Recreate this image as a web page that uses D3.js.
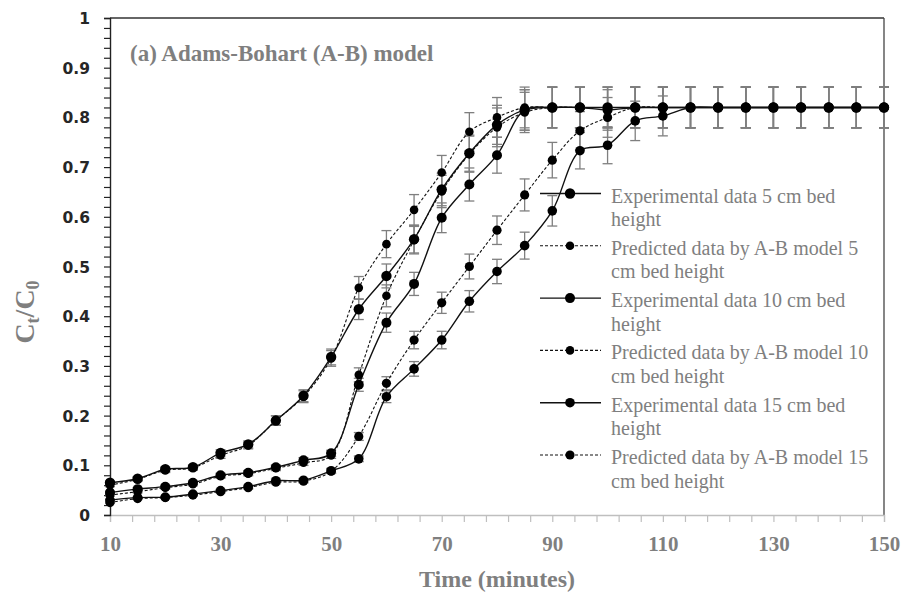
<!DOCTYPE html>
<html>
<head>
<meta charset="utf-8">
<script src="https://cdn.jsdelivr.net/npm/d3@7"></script>
<style>
  html, body { margin: 0; padding: 0; background: #fff; }
  svg { display: block; }
</style>
</head>
<body>
<svg id="chart" width="902" height="594"></svg>
<script>
// ---------- data ----------
const times = [10,15,20,25,30,35,40,45,50,55,60,65,70,75,80,85,90,95,100,105,110,115,120,125,130,135,140,145,150];

const exp5  = [0.065,0.073,0.092,0.096,0.125,0.142,0.190,0.240,0.318,0.414,0.481,0.555,0.655,0.728,0.785,0.815,0.820,0.820,0.820,0.820,0.820,0.820,0.820,0.820,0.820,0.820,0.820,0.820,0.820];
const pred5 = [0.060,0.072,0.090,0.095,0.120,0.140,0.190,0.238,0.315,0.457,0.545,0.614,0.689,0.771,0.800,0.820,0.820,0.820,0.820,0.820,0.820,0.820,0.820,0.820,0.820,0.820,0.820,0.820,0.820];
const exp10 = [0.045,0.052,0.057,0.065,0.080,0.085,0.096,0.110,0.124,0.262,0.387,0.465,0.598,0.665,0.724,0.815,0.820,0.820,0.815,0.820,0.820,0.820,0.820,0.820,0.820,0.820,0.820,0.820,0.820];
const pred10= [0.040,0.047,0.055,0.062,0.078,0.083,0.094,0.105,0.120,0.282,0.441,0.553,0.651,0.726,0.780,0.810,0.820,0.820,0.820,0.820,0.820,0.820,0.820,0.820,0.820,0.820,0.820,0.820,0.820];
const exp15 = [0.030,0.035,0.036,0.042,0.049,0.057,0.069,0.070,0.089,0.113,0.238,0.294,0.352,0.430,0.490,0.542,0.612,0.733,0.744,0.793,0.803,0.820,0.820,0.820,0.820,0.820,0.820,0.820,0.820];
const pred15= [0.025,0.033,0.035,0.040,0.047,0.055,0.066,0.068,0.088,0.158,0.265,0.352,0.427,0.500,0.573,0.644,0.714,0.773,0.800,0.820,0.820,0.820,0.820,0.820,0.820,0.820,0.820,0.820,0.820];

const seriesNames = [
  ["Experimental data 5 cm bed", "height"],
  ["Predicted data by A-B model 5", "cm bed height"],
  ["Experimental data 10 cm bed", "height"],
  ["Predicted data by A-B model 10", "cm bed height"],
  ["Experimental data 15 cm bed", "height"],
  ["Predicted data by A-B model 15", "cm bed height"]
];
const errorPercent = 5; // percentage error bars

const xTickLabels = [10,30,50,70,90,110,130,150];
const yTickLabels = ["0","0.1","0.2","0.3","0.4","0.5","0.6","0.7","0.8","0.9","1"];
const titleText = "(a) Adams-Bohart (A-B) model";
const xTitle = "Time (minutes)";

// ---------- styling ----------
const seriesList = [
  {vals: exp5,  dashed: false, r: 5.2},
  {vals: pred5, dashed: true,  r: 4.3},
  {vals: exp10, dashed: false, r: 5},
  {vals: pred10,dashed: true,  r: 4.3},
  {vals: exp15, dashed: false, r: 4.8},
  {vals: pred15,dashed: true,  r: 4.6}
];

const svg = d3.select("#chart");
const L = 110, R = 884, T = 18, B = 515;
const x = d3.scaleLinear().domain([10,150]).range([L,R]);
const y = d3.scaleLinear().domain([0,1]).range([B,T]);

const serif = "'Liberation Serif','Times New Roman',serif";
const gray = "#7f7f7f";

// plot border (top & right)
svg.append("line").attr("x1",L).attr("x2",R).attr("y1",T).attr("y2",T).attr("stroke","#333").attr("stroke-width",1.3);
svg.append("line").attr("x1",R).attr("x2",R).attr("y1",T).attr("y2",B).attr("stroke","#444").attr("stroke-width",1.3);

// x axis
const xMinor = d3.range(10,151,4);
const xAxisG = svg.append("g").attr("transform",`translate(0,${B})`)
  .call(d3.axisBottom(x).tickValues(xMinor).tickSize(7).tickFormat(""));
xAxisG.select(".domain").attr("stroke","#bfbfbf").attr("stroke-width",1.3);
xAxisG.selectAll(".tick line").attr("stroke","#bfbfbf").attr("stroke-width",1.2);
const xLab = svg.append("g").attr("transform",`translate(0,${B})`)
  .call(d3.axisBottom(x).tickValues(xTickLabels).tickSize(0).tickPadding(0).tickFormat(d3.format("d")));
xLab.select(".domain").remove();
xLab.selectAll("text").attr("y",36).attr("dy",0).attr("fill",gray)
  .style("font-family",serif).style("font-weight","bold").style("font-size","21px");

// y axis
const yMinor = d3.range(0,51).map(i => i/50);
const yAxisG = svg.append("g").attr("transform",`translate(${L},0)`)
  .call(d3.axisLeft(y).tickValues(yMinor).tickSize(6).tickFormat(""));
yAxisG.select(".domain").attr("stroke","#222").attr("stroke-width",1.4);
yAxisG.selectAll(".tick line").attr("stroke","#222").attr("stroke-width",1.2);
const yLab = svg.append("g").attr("transform",`translate(${L},0)`)
  .call(d3.axisLeft(y).tickValues(yTickLabels.map(Number)).tickSize(0).tickPadding(20)
    .tickFormat((d,i) => yTickLabels[i]));
yLab.select(".domain").remove();
yLab.selectAll("text").attr("fill","#262626").attr("dy","0.36em")
  .style("font-family","'DejaVu Sans',sans-serif").style("font-weight","bold").style("font-size","15.5px");

// title
svg.append("text").attr("x",130).attr("y",61).text(titleText)
  .attr("fill",gray).style("font-family",serif).style("font-weight","bold").style("font-size","23px");

// x title
svg.append("text").attr("x",(L+R)/2).attr("y",587).attr("text-anchor","middle").text(xTitle)
  .attr("fill",gray).style("font-family",serif).style("font-weight","bold").style("font-size","24px");

// y title C_t/C_0
const yt = svg.append("text").attr("transform","translate(34,312) rotate(-90)").attr("text-anchor","middle")
  .attr("fill",gray).style("font-family",serif).style("font-weight","bold").style("font-size","28px");
yt.append("tspan").text("C");
yt.append("tspan").text("t").attr("baseline-shift","-25%").style("font-size","18px");
yt.append("tspan").text("/C");
yt.append("tspan").text("0").attr("baseline-shift","-25%").style("font-size","18px");

// ---------- series ----------
const line = d3.line().x(d => x(d.t)).y(d => y(d.v)).curve(d3.curveCatmullRom.alpha(0.5));
const plotG = svg.append("g");
seriesList.forEach(s => {
  const pts = times.map((t,i) => ({t, v: s.vals[i]}));
  const eg = plotG.append("g");
  pts.forEach(p => {
    const e = p.v * errorPercent / 100;
    const px = x(p.t), y1 = y(p.v + e), y2 = y(p.v - e);
    eg.append("line").attr("x1",px).attr("x2",px).attr("y1",y1).attr("y2",y2).attr("stroke",gray).attr("stroke-width",1.3);
    eg.append("line").attr("x1",px-5).attr("x2",px+5).attr("y1",y1).attr("y2",y1).attr("stroke",gray).attr("stroke-width",1.3);
    eg.append("line").attr("x1",px-5).attr("x2",px+5).attr("y1",y2).attr("y2",y2).attr("stroke",gray).attr("stroke-width",1.3);
  });
});
seriesList.forEach(s => {
  const pts = times.map((t,i) => ({t, v: s.vals[i]}));
  plotG.append("path").datum(pts).attr("d",line).attr("fill","none").attr("stroke","#111")
    .attr("stroke-width", s.dashed ? 1.1 : 1.4).attr("stroke-dasharray", s.dashed ? "3,2" : null);
  plotG.append("g").selectAll("circle").data(pts).join("circle")
    .attr("cx",d => x(d.t)).attr("cy",d => y(d.v)).attr("r",s.r).attr("fill","#000");
});

// ---------- legend ----------
const lg = svg.append("g");
seriesList.forEach((s,i) => {
  const base = 202.5 + i*52.3;
  const sy = base - 9;
  lg.append("line").attr("x1",540).attr("x2",601).attr("y1",sy).attr("y2",sy).attr("stroke","#111")
    .attr("stroke-width", s.dashed ? 1.1 : 1.4).attr("stroke-dasharray", s.dashed ? "3,2" : null);
  lg.append("circle").attr("cx",570).attr("cy",sy).attr("r", s.r).attr("fill","#000");
  const tx = lg.append("text").attr("x",611).attr("y",base).attr("fill",gray)
    .style("font-family",serif).style("font-size","20px");
  tx.append("tspan").attr("x",611).text(seriesNames[i][0]);
  tx.append("tspan").attr("x",611).attr("dy",23.5).text(seriesNames[i][1]);
});
</script>
</body>
</html>
